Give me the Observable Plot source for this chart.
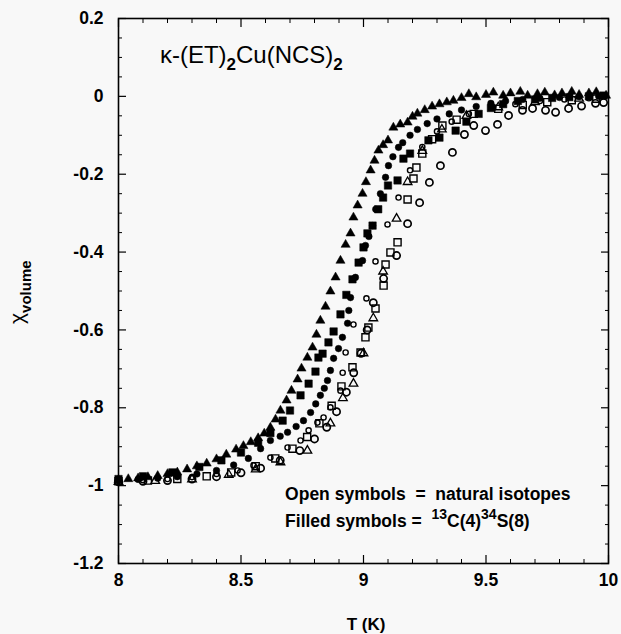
<!DOCTYPE html>
<html><head><meta charset="utf-8">
<script src="https://cdn.jsdelivr.net/npm/d3@7"></script>
<script src="https://cdn.jsdelivr.net/npm/@observablehq/plot@0.6"></script>
<style>
body{margin:0;background:#f8f8f8;}
svg text{font-family:"Liberation Sans",Arial,Helvetica,sans-serif;}
</style>
</head><body><div id="chart"></div>
<script>
// ---- data: [T (K), chi_volume] ----
const filledTriangles = [[8.00,-0.985],[8.04,-0.983],[8.08,-0.981],[8.12,-0.978],[8.16,-0.975],[8.20,-0.970],[8.24,-0.966],[8.28,-0.958],[8.32,-0.950],[8.36,-0.943],[8.40,-0.932],[8.44,-0.920],[8.48,-0.907],[8.51,-0.898],[8.54,-0.888],[8.57,-0.878],[8.595,-0.866],[8.62,-0.851],[8.641,-0.830],[8.661,-0.807],[8.686,-0.781],[8.706,-0.756],[8.731,-0.727],[8.747,-0.699],[8.771,-0.671],[8.792,-0.645],[8.808,-0.612],[8.824,-0.576],[8.845,-0.540],[8.865,-0.501],[8.886,-0.465],[8.906,-0.422],[8.927,-0.381],[8.947,-0.352],[8.959,-0.311],[8.976,-0.280],[8.996,-0.250],[9.01,-0.220],[9.029,-0.190],[9.045,-0.165],[9.061,-0.139],[9.08,-0.125],[9.10,-0.113],[9.122,-0.080],[9.15,-0.072],[9.18,-0.067],[9.20,-0.052],[9.22,-0.044],[9.25,-0.035],[9.28,-0.026],[9.31,-0.020],[9.34,-0.015],[9.367,-0.011],[9.40,-0.004],[9.43,0.006],[9.46,-0.002],[9.50,0.004],[9.53,0.010],[9.57,0.002],[9.60,0.008],[9.64,0.012],[9.67,0.002],[9.71,0.006],[9.74,0.010],[9.78,0.003],[9.81,0.008],[9.85,0.012],[9.88,0.004],[9.92,0.008],[9.95,0.011],[9.99,0.002]];
const filledSquares = [[8.00,-0.983],[8.10,-0.976],[8.22,-0.966],[8.33,-0.952],[8.42,-0.935],[8.50,-0.915],[8.57,-0.890],[8.62,-0.865],[8.67,-0.833],[8.70,-0.807],[8.743,-0.768],[8.776,-0.738],[8.804,-0.707],[8.816,-0.671],[8.833,-0.661],[8.857,-0.632],[8.878,-0.604],[8.906,-0.560],[8.93,-0.510],[8.955,-0.470],[8.98,-0.427],[9.00,-0.388],[9.016,-0.352],[9.037,-0.332],[9.06,-0.290],[9.08,-0.260],[9.10,-0.229],[9.139,-0.216],[9.163,-0.160],[9.19,-0.147],[9.265,-0.113],[9.31,-0.106],[9.376,-0.088],[9.42,-0.065],[9.47,-0.045],[9.52,-0.030],[9.57,-0.020],[9.63,-0.012],[9.70,-0.008],[9.77,-0.004],[9.84,-0.002],[9.92,0.000],[9.98,0.002]];
const filledCircles = [[8.00,-0.986],[8.08,-0.984],[8.16,-0.981],[8.24,-0.977],[8.32,-0.970],[8.40,-0.961],[8.47,-0.947],[8.53,-0.930],[8.58,-0.905],[8.62,-0.884],[8.66,-0.873],[8.69,-0.863],[8.725,-0.848],[8.755,-0.833],[8.784,-0.812],[8.805,-0.790],[8.824,-0.768],[8.84,-0.750],[8.853,-0.730],[8.865,-0.704],[8.878,-0.673],[8.898,-0.648],[8.914,-0.619],[8.935,-0.583],[8.94,-0.550],[8.947,-0.517],[8.967,-0.465],[8.996,-0.422],[9.008,-0.383],[9.022,-0.360],[9.037,-0.332],[9.05,-0.290],[9.069,-0.250],[9.09,-0.208],[9.102,-0.178],[9.12,-0.155],[9.143,-0.131],[9.16,-0.119],[9.19,-0.100],[9.22,-0.085],[9.26,-0.070],[9.30,-0.058],[9.35,-0.045],[9.40,-0.035],[9.46,-0.026],[9.52,-0.018],[9.58,-0.012],[9.65,-0.008],[9.72,-0.005],[9.80,-0.003],[9.88,-0.001],[9.96,0.000]];
const openCircles = [[8.00,-0.990],[8.10,-0.989],[8.20,-0.987],[8.30,-0.983],[8.40,-0.977],[8.50,-0.967],[8.58,-0.955],[8.66,-0.935],[8.74,-0.910],[8.80,-0.880],[8.85,-0.850],[8.89,-0.810],[8.93,-0.760],[8.96,-0.710],[8.99,-0.660],[9.015,-0.600],[9.04,-0.530],[9.082,-0.468],[9.135,-0.409],[9.18,-0.327],[9.229,-0.273],[9.269,-0.221],[9.314,-0.178],[9.363,-0.144],[9.412,-0.098],[9.45,-0.075],[9.498,-0.088],[9.547,-0.072],[9.592,-0.049],[9.649,-0.036],[9.69,-0.031],[9.743,-0.036],[9.784,-0.041],[9.837,-0.031],[9.89,-0.025],[9.947,-0.018],[9.98,-0.016]];
const openSquares = [[8.00,-0.989],[8.12,-0.987],[8.24,-0.983],[8.36,-0.976],[8.46,-0.966],[8.56,-0.950],[8.64,-0.930],[8.71,-0.905],[8.77,-0.875],[8.82,-0.840],[8.87,-0.795],[8.91,-0.745],[8.955,-0.696],[8.988,-0.658],[9.008,-0.619],[9.02,-0.594],[9.049,-0.545],[9.082,-0.486],[9.09,-0.432],[9.11,-0.401],[9.139,-0.375],[9.18,-0.265],[9.204,-0.211],[9.216,-0.183],[9.24,-0.147],[9.28,-0.110],[9.322,-0.075],[9.38,-0.060],[9.45,-0.045],[9.55,-0.032],[9.65,-0.022],[9.75,-0.015],[9.85,-0.010],[9.95,-0.006]];
const openSmallCircles = [[8.00,-0.988],[8.10,-0.986],[8.20,-0.983],[8.30,-0.978],[8.40,-0.970],[8.486,-0.961],[8.551,-0.948],[8.62,-0.928],[8.69,-0.902],[8.743,-0.884],[8.776,-0.858],[8.812,-0.838],[8.837,-0.825],[8.865,-0.799],[8.906,-0.756],[8.915,-0.710],[8.927,-0.658],[8.959,-0.586],[9.012,-0.519],[9.049,-0.424],[9.098,-0.329],[9.143,-0.260],[9.19,-0.190],[9.24,-0.130],[9.30,-0.090],[9.36,-0.065],[9.43,-0.045],[9.53,-0.029],[9.62,-0.020],[9.72,-0.012],[9.82,-0.008],[9.92,-0.005]];
const openTriangles = [[8.00,-0.990],[8.15,-0.988],[8.30,-0.984],[8.45,-0.972],[8.56,-0.958],[8.661,-0.940],[8.771,-0.910],[8.865,-0.840],[8.916,-0.775],[8.959,-0.738],[9.00,-0.660],[9.04,-0.570],[9.08,-0.450],[9.135,-0.314],[9.18,-0.220],[9.24,-0.140],[9.32,-0.085],[9.42,-0.050],[9.55,-0.028],[9.70,-0.015],[9.88,-0.006]];

const xMajor = [8, 8.5, 9, 9.5, 10];
const xMinor = [8.1,8.2,8.3,8.4,8.6,8.7,8.8,8.9,9.1,9.2,9.3,9.4,9.6,9.7,9.8,9.9];
const yMajor = [0.2, 0, -0.2, -0.4, -0.6, -0.8, -1, -1.2];
const yMinor = [0.15,0.1,0.05,-0.05,-0.1,-0.15,-0.25,-0.3,-0.35,-0.45,-0.5,-0.55,-0.65,-0.7,-0.75,-0.85,-0.9,-0.95,-1.05,-1.1,-1.15];

const titleText = ["κ-(ET)", "2", "Cu(NCS)", "2"];
const legendLine1 = "Open symbols  =  natural isotopes";
const legendLine2 = ["Filled symbols =  ", "13", "C(4)", "34", "S(8)"];
const xLabel = "T (K)";
const yLabel = ["χ", "volume"];
// annotation anchors in data units
const titleAt = [8.171, 0.084];
const legendAt = [8.682, -1.038];
const legendAt2 = [8.682, -1.107];
const yLabelAt = -0.586;

const fmt = d => String(+d.toFixed(1));
const blank = () => "";
const bg = "#f8f8f8";
const MAJ = 8, MIN = 4;

const dots = (data, symbol, r, filled, sw) => Plot.dot(data, {
  x: d => d[0], y: d => d[1], symbol, r,
  fill: filled ? "black" : "none", stroke: "black", strokeWidth: filled ? 0.5 : sw
});

const chart = Plot.plot({
  width: 621, height: 634,
  marginLeft: 118, marginRight: 13, marginTop: 18, marginBottom: 71,
  style: {background: bg, fontFamily: "Liberation Sans, Arial, sans-serif"},
  x: {domain: [8, 10]},
  y: {domain: [-1.2, 0.2]},
  marks: [
    Plot.axisX({ticks: xMajor, anchor: "bottom", tickSize: 0, tickPadding: 10, tickFormat: fmt, fontSize: 17.5, fontWeight: "bold", label: null}),
    Plot.axisY({ticks: yMajor, anchor: "left", tickSize: 0, tickPadding: 15, tickFormat: fmt, fontSize: 17.5, fontWeight: "bold", label: null}),
    // inward ticks: draw outward ticks and shift them inside the frame
    Plot.axisX({ticks: xMajor, anchor: "bottom", tickSize: MAJ, dy: -MAJ, tickFormat: blank, label: null, strokeWidth: 1.2}),
    Plot.axisX({ticks: xMajor, anchor: "top", tickSize: MAJ, dy: MAJ, tickFormat: blank, label: null, strokeWidth: 1.2}),
    Plot.axisX({ticks: xMinor, anchor: "bottom", tickSize: MIN, dy: -MIN, tickFormat: blank, label: null}),
    Plot.axisX({ticks: xMinor, anchor: "top", tickSize: MIN, dy: MIN, tickFormat: blank, label: null}),
    Plot.axisY({ticks: yMajor, anchor: "left", tickSize: MAJ, dx: MAJ, tickFormat: blank, label: null, strokeWidth: 1.2}),
    Plot.axisY({ticks: yMajor, anchor: "right", tickSize: MAJ, dx: -MAJ, tickFormat: blank, label: null, strokeWidth: 1.2}),
    Plot.axisY({ticks: yMinor, anchor: "left", tickSize: MIN, dx: MIN, tickFormat: blank, label: null}),
    Plot.axisY({ticks: yMinor, anchor: "right", tickSize: MIN, dx: -MIN, tickFormat: blank, label: null}),
    Plot.frame({stroke: "black", strokeWidth: 1.6}),
    dots(openTriangles, "triangle", 3.2, false, 1.3),
    dots(openSmallCircles, "circle", 2.6, false, 1.4),
    dots(openSquares, "square", 4.0, false, 1.4),
    dots(openCircles, "circle", 3.6, false, 1.7),
    dots(filledCircles, "circle", 3.3, true),
    dots(filledSquares, "square", 4.2, true),
    dots(filledTriangles, "triangle", 3.4, true)
  ]
});
document.getElementById("chart").appendChild(chart);

const xs = chart.scale("x"), ys = chart.scale("y");
const svg = d3.select(chart);
const fam = "Liberation Sans, Arial, sans-serif";

// title
const t = svg.append("text").attr("x", xs.apply(titleAt[0])).attr("y", ys.apply(titleAt[1]))
  .attr("text-anchor", "start").attr("font-size", 24).attr("font-family", fam).attr("fill", "black");
t.append("tspan").text(titleText[0]);
t.append("tspan").attr("dy", 7).attr("font-size", 17).attr("font-weight", "bold").text(titleText[1]);
t.append("tspan").attr("dy", -7).text(titleText[2]);
t.append("tspan").attr("dy", 7).attr("font-size", 17).attr("font-weight", "bold").text(titleText[3]);

// legend
svg.append("text").attr("x", xs.apply(legendAt[0])).attr("y", ys.apply(legendAt[1]))
  .attr("text-anchor", "start").attr("font-size", 17.5).attr("font-family", fam).attr("font-weight", "bold")
  .style("white-space", "pre").text(legendLine1);
const l2 = svg.append("text").attr("x", xs.apply(legendAt2[0])).attr("y", ys.apply(legendAt2[1]))
  .attr("text-anchor", "start").attr("font-size", 17.5).attr("font-family", fam).attr("font-weight", "bold").style("white-space", "pre");
l2.append("tspan").text(legendLine2[0]);
l2.append("tspan").attr("dy", -8).attr("font-size", 14).text(legendLine2[1]);
l2.append("tspan").attr("dy", 8).text(legendLine2[2]);
l2.append("tspan").attr("dy", -8).attr("font-size", 14).text(legendLine2[3]);
l2.append("tspan").attr("dy", 8).text(legendLine2[4]);

// x label
const [xr0, xr1] = xs.range;
const yBottom = ys.apply(-1.2);
svg.append("text").attr("x", (xr0 + xr1) / 2 + 3).attr("y", yBottom + 67)
  .attr("text-anchor", "middle").attr("font-size", 17).attr("font-family", fam).attr("font-weight", "bold")
  .text(xLabel);

// y label
const yl = svg.append("text").attr("transform", `translate(${xr0 - 94},${ys.apply(yLabelAt)}) rotate(-90)`)
  .attr("text-anchor", "start").attr("font-family", fam).attr("fill", "black");
yl.append("tspan").attr("font-size", 21).text(yLabel[0]);
yl.append("tspan").attr("dy", 7).attr("font-size", 15).attr("font-weight", "bold").text(yLabel[1]);
</script></body></html>
